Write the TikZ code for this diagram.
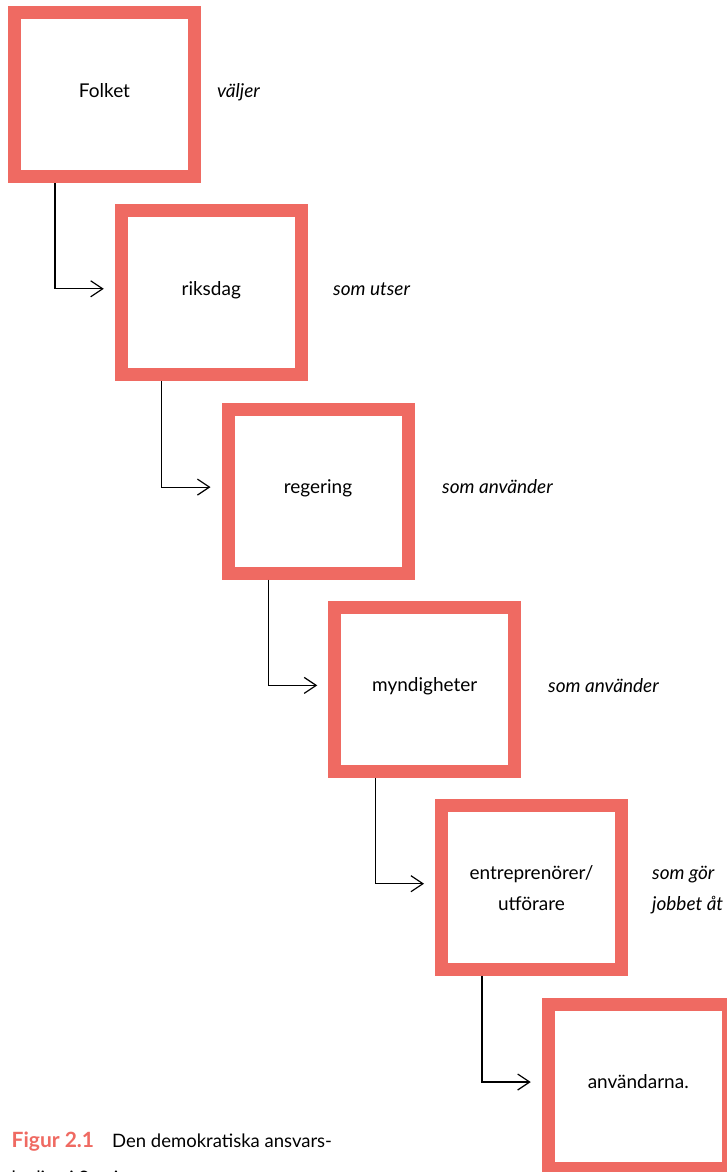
\documentclass[tikz,border=0pt]{standalone}
\usepackage{fontspec}
\setmainfont{Lato}
\usetikzlibrary{arrows.meta}
\definecolor{salmon}{HTML}{EF6A62}
\tikzset{
  stage/.style={draw=salmon, line width=13pt, minimum width=180pt, minimum height=164pt, inner sep=0pt, outer sep=6.5pt},
  boxtext/.style={anchor=base, inner sep=0pt, font=\fontsize{19}{31}\selectfont, align=center},
  side/.style={anchor=base west, inner sep=0pt, font=\fontsize{19}{31}\selectfont\itshape, align=left},
  captext/.style={anchor=base west, inner sep=0pt, font=\fontsize{18.5}{33}\selectfont},
  conn/.style={line width=1.2pt, -{Straight Barb[length=12pt,width=16pt,line width=1.2pt]}},
}
\begin{document}
\begin{tikzpicture}[x=1pt,y=-1pt]
\useasboundingbox (0,0) rectangle (727,1172);
\begin{scope}
\clip (0,0) rectangle (727,1172);
\node[stage] (b1) at (104.5,94.5) {};
\node[stage] (b2) at (211.25,292.8) {};
\node[stage] (b3) at (318,491.1) {};
\node[stage] (b4) at (424.75,689.4) {};
\node[stage] (b5) at (531.5,887.7) {};
\node[stage] (b6) at (638.25,1086) {};

\node[boxtext] (t1) at ([yshift=-2.5pt]b1.center) {Folket};
\node[boxtext] (t2) at ([yshift=-2.5pt]b2.center) {riksdag};
\node[boxtext] (t3) at ([yshift=-2.5pt]b3.center) {regering};
\node[boxtext] (t4) at ([yshift=-2.5pt]b4.center) {myndigheter};
\node[boxtext] (t5) at ([yshift=-22.3pt]b5.center) {entreprenörer/\\utförare};
\node[boxtext] (t6) at ([yshift=-2.5pt]b6.center) {användarna.};

\node[side] (l1) at (217,97) {väljer};
\node[side] (l2) at (333,295) {som utser};
\node[side] (l3) at (442,493.5) {som använder};
\node[side] (l4) at (548,692) {som använder};
\node[side] (l5) at (652,910) {som gör\\jobbet åt};

\draw[conn] ([xshift=-49.5pt]b1.south) |- ([xshift=-11pt,yshift=4pt]b2.west);
\draw[conn] ([xshift=-49.5pt]b2.south) |- ([xshift=-11pt,yshift=4pt]b3.west);
\draw[conn] ([xshift=-49.5pt]b3.south) |- ([xshift=-11pt,yshift=4pt]b4.west);
\draw[conn] ([xshift=-49.5pt]b4.south) |- ([xshift=-11pt,yshift=4pt]b5.west);
\draw[conn] ([xshift=-49.5pt]b5.south) |- ([xshift=-11pt,yshift=4pt]b6.west);

\node[captext, font=\fontsize{21}{33}\selectfont\bfseries, text=salmon] (fig) at (11.5,1147.7) {Figur 2.1};
\node[captext] (cap1) at (112,1147.7) {Den demokratiska ansvars-};
\node[captext] (cap2) at (11.5,1184) {kedjan i Sverige};
\end{scope}
\end{tikzpicture}
\end{document}
